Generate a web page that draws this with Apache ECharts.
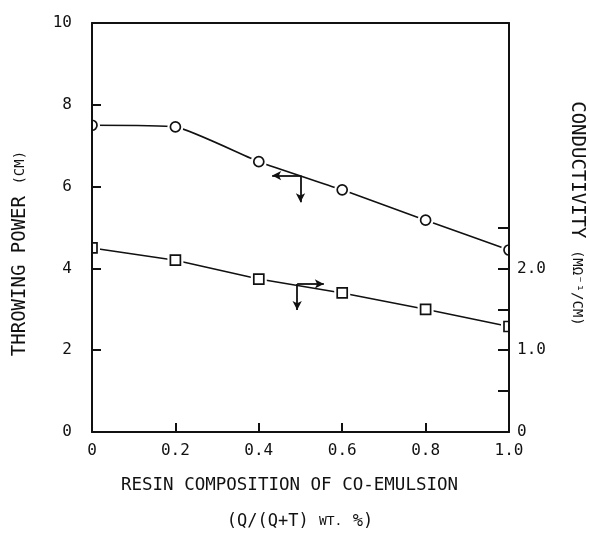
<!DOCTYPE html>
<html>
<head>
<meta charset="utf-8">
<script src="https://cdn.jsdelivr.net/npm/echarts@6/dist/echarts.min.js"></script>
<style>
  html, body { margin: 0; padding: 0; background: #fff; }
  #chart { width: 590px; height: 534px; }
</style>
</head>
<body>
<div id="chart"></div>
<script>
// Resin composition of the co-emulsion, Q/(Q+T) wt. fraction
const composition = [0, 0.2, 0.4, 0.6, 0.8, 1.0];
// Throwing power (cm), left axis, circles
const throwingPower = [7.5, 7.46, 6.61, 5.92, 5.18, 4.45];
// Conductivity (mΩ⁻¹/cm), right axis, squares
const conductivity = [2.25, 2.1, 1.87, 1.70, 1.50, 1.29];

// Tick values
const xTicks = [0, 0.2, 0.4, 0.6, 0.8, 1.0];
const powerTicks = [0, 2, 4, 6, 8, 10];
const conductivityTicks = [0, 0.5, 1.0, 1.5, 2.0, 2.5];
const conductivityLabels = [0, 1.0, 2.0];

// Arrows telling which axis each curve belongs to (data coordinates)
const powerArrow = { start: [0.5, 6.27], toX: 0.432, toY: 5.62 };
const conductivityArrow = { start: [0.492, 1.81], toX: 0.556, toY: 1.49 };

const FONT = 'DejaVu Sans Mono';
const INK = '#111';

function tickText(v) {
  return v === 0 ? '0' : v.toFixed(1);
}

// Open markers with a white halo so the curve stops short of each symbol
function markerSeries(values, yAxisIndex, shape) {
  return {
    type: 'custom',
    xAxisIndex: 0,
    yAxisIndex: yAxisIndex,
    clip: true,
    z: 3,
    data: composition.map((x, i) => [x, values[i]]),
    renderItem: function (params, api) {
      const p = api.coord([api.value(0), api.value(1)]);
      const r = 5;
      const halo = r + 3;
      let back, front;
      if (shape === 'circle') {
        back = { type: 'circle', shape: { cx: p[0], cy: p[1], r: halo } };
        front = { type: 'circle', shape: { cx: p[0], cy: p[1], r: r } };
      } else {
        back = { type: 'rect', shape: { x: p[0] - halo, y: p[1] - halo, width: 2 * halo, height: 2 * halo } };
        front = { type: 'rect', shape: { x: p[0] - r, y: p[1] - r, width: 2 * r, height: 2 * r } };
      }
      back.style = { fill: '#fff', stroke: null };
      front.style = { fill: '#fff', stroke: INK, lineWidth: 1.7 };
      return { type: 'group', children: [back, front] };
    }
  };
}

function arrowLines(a) {
  return [
    [{ coord: a.start }, { coord: [a.toX, a.start[1]] }],
    [{ coord: a.start }, { coord: [a.start[0], a.toY] }]
  ];
}

const arrowStyle = {
  silent: true,
  animation: false,
  symbol: ['none', 'arrow'],
  symbolSize: [7, 9],
  label: { show: false },
  lineStyle: { color: INK, width: 1.8, type: 'solid' },
  emphasis: { disabled: true }
};

const chart = echarts.init(document.getElementById('chart'), null, { renderer: 'canvas' });

chart.setOption({
  backgroundColor: '#fff',
  animation: false,
  grid: { left: 92, top: 23, right: 81, bottom: 102, containLabel: false, outerBoundsMode: 'none' },
  xAxis: [
    {
      type: 'value', min: 0, max: 1, interval: 0.2, position: 'bottom', z: 6,
      axisLine: { show: true, onZero: false, lineStyle: { color: INK, width: 2 } },
      axisTick: { show: true, inside: true, length: 9, lineStyle: { color: INK, width: 2 } },
      axisLabel: {
        customValues: xTicks, margin: 11, color: INK, fontFamily: FONT, fontSize: 16,
        formatter: tickText
      },
      splitLine: { show: false },
      name: 'RESIN COMPOSITION OF CO-EMULSION',
      nameLocation: 'middle', nameGap: 44,
      nameTextStyle: { color: INK, fontFamily: FONT, fontSize: 17.5, padding: [0, 22, 0, 0] }
    },
    {
      type: 'value', min: 0, max: 1, position: 'top', z: 6,
      axisLine: { show: true, onZero: false, lineStyle: { color: INK, width: 2 } },
      axisTick: { show: false }, axisLabel: { show: false }, splitLine: { show: false }
    }
  ],
  yAxis: [
    {
      type: 'value', min: 0, max: 10, interval: 2, position: 'left', z: 6,
      axisLine: { show: true, onZero: false, lineStyle: { color: INK, width: 2 } },
      axisTick: { show: true, inside: true, length: 9, customValues: powerTicks, lineStyle: { color: INK, width: 2 } },
      axisLabel: { customValues: powerTicks, margin: 20, color: INK, fontFamily: FONT, fontSize: 16 },
      splitLine: { show: false },
      name: '{m|THROWING POWER }{s|(CM)}',
      nameLocation: 'middle', nameRotate: 90, nameGap: 62,
      nameTextStyle: {
        color: INK, fontFamily: FONT, fontSize: 19, padding: [0, 52, 0, 0],
        rich: {
          m: { fontFamily: FONT, fontSize: 19, color: INK },
          s: { fontFamily: FONT, fontSize: 14, color: INK }
        }
      }
    },
    {
      type: 'value', min: 0, max: 5, interval: 0.5, position: 'right', z: 6,
      axisLine: { show: true, onZero: false, lineStyle: { color: INK, width: 2 } },
      axisTick: { show: true, inside: true, length: 11, customValues: conductivityTicks, lineStyle: { color: INK, width: 2 } },
      axisLabel: {
        customValues: conductivityLabels, margin: 8, color: INK, fontFamily: FONT, fontSize: 16,
        formatter: tickText, padding: [0, 0, 9, 0]
      },
      splitLine: { show: false },
      name: '{m|CONDUCTIVITY }{s|(MΩ⁻¹/CM)}',
      nameLocation: 'middle', nameRotate: -90, nameGap: 58,
      nameTextStyle: {
        color: INK, fontFamily: FONT, fontSize: 19, padding: [0, 28, 0, 0],
        rich: {
          m: { fontFamily: FONT, fontSize: 19, color: INK },
          s: { fontFamily: FONT, fontSize: 14, color: INK }
        }
      }
    }
  ],
  series: [
    {
      type: 'line', xAxisIndex: 0, yAxisIndex: 0, z: 2,
      data: composition.map((x, i) => [x, throwingPower[i]]),
      smooth: 0.15, symbol: 'none',
      lineStyle: { color: INK, width: 1.6 },
      markLine: Object.assign({ data: arrowLines(powerArrow) }, arrowStyle)
    },
    {
      type: 'line', xAxisIndex: 0, yAxisIndex: 1, z: 2,
      data: composition.map((x, i) => [x, conductivity[i]]),
      symbol: 'none',
      lineStyle: { color: INK, width: 1.6 },
      markLine: Object.assign({ data: arrowLines(conductivityArrow) }, arrowStyle)
    },
    markerSeries(throwingPower, 0, 'circle'),
    markerSeries(conductivity, 1, 'square')
  ],
  graphic: [
    {
      type: 'text', x: 300, y: 522,
      style: {
        text: '{m|(Q/(Q+T) }{s|WT.}{m| %)}',
        align: 'center', verticalAlign: 'middle',
        rich: {
          m: { fontFamily: FONT, fontSize: 17, fill: INK },
          s: { fontFamily: FONT, fontSize: 13, fill: INK }
        }
      }
    }
  ]
});
</script>
</body>
</html>
